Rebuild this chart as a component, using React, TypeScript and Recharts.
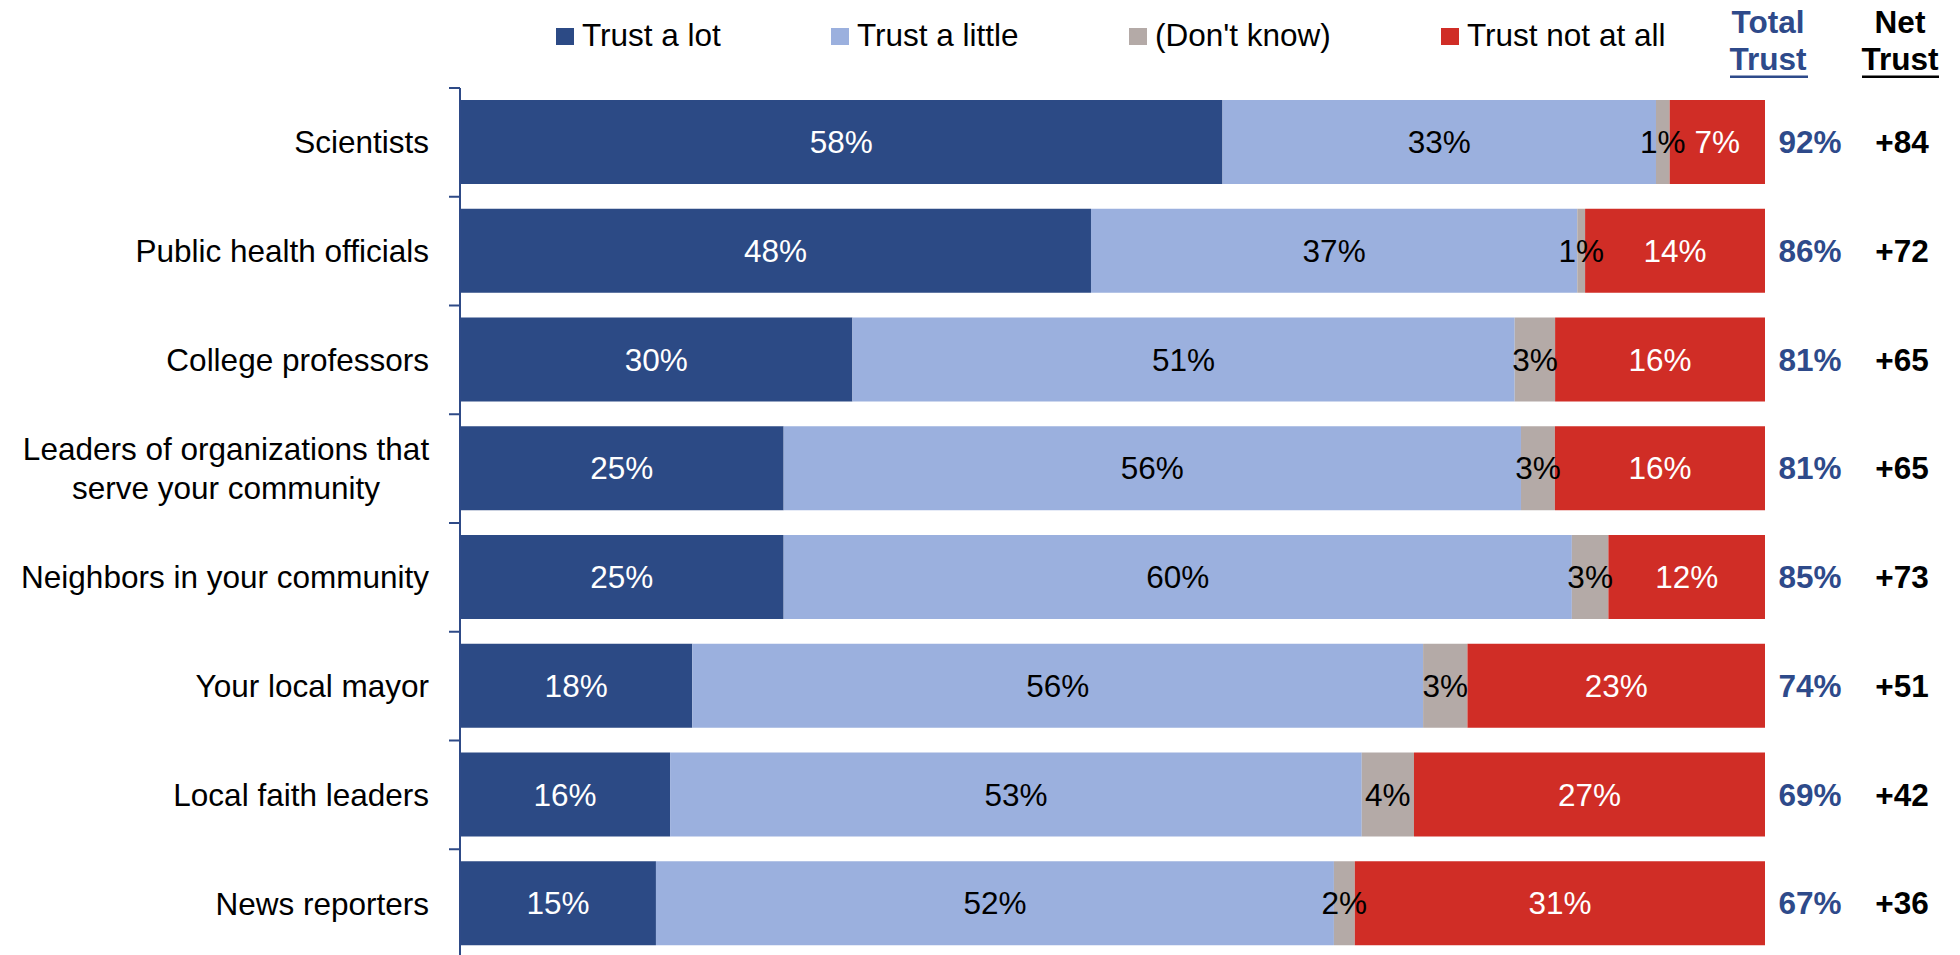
import React from 'react';
import { BarChart, Bar, XAxis, YAxis, LabelList, Legend } from 'recharts';

const categories = [
  'Scientists',
  'Public health officials',
  'College professors',
  'Leaders of organizations that\nserve your community',
  'Neighbors in your community',
  'Your local mayor',
  'Local faith leaders',
  'News reporters',
];
// Bar lengths (unrounded shares)
const trustALot = [58.4, 48.4, 30.1, 24.8, 24.8, 17.8, 16.1, 15.0];
const trustALittle = [33.2, 37.3, 50.8, 56.5, 60.4, 56.0, 53.0, 51.9];
const dontKnow = [1.05, 0.6, 3.1, 2.6, 2.8, 3.4, 4.0, 1.6];
const trustNotAtAll = [7.3, 13.8, 16.1, 16.1, 12.0, 22.8, 26.9, 31.4];
// Printed (rounded) labels
const trustALotLabels = ['58%', '48%', '30%', '25%', '25%', '18%', '16%', '15%'];
const trustALittleLabels = ['33%', '37%', '51%', '56%', '60%', '56%', '53%', '52%'];
const dontKnowLabels = ['1%', '1%', '3%', '3%', '3%', '3%', '4%', '2%'];
const trustNotAtAllLabels = ['7%', '14%', '16%', '16%', '12%', '23%', '27%', '31%'];
const totalTrust = ['92%', '86%', '81%', '81%', '85%', '74%', '69%', '67%'];
const netTrust = ['+84', '+72', '+65', '+65', '+73', '+51', '+42', '+36'];

const seriesNames = ['Trust a lot', 'Trust a little', "(Don't know)", 'Trust not at all'];
const seriesKeys = ['lot', 'little', 'dk', 'notAtAll'];
const seriesColors = ['#2C4A85', '#9BB0DE', '#B4AAA7', '#D02D26'];
const labelColors = ['#FFFFFF', '#000000', '#000000', '#FFFFFF'];
const seriesLabels = [trustALotLabels, trustALittleLabels, dontKnowLabels, trustNotAtAllLabels];

const data = categories.map((name, i) => ({
  name,
  lot: trustALot[i],
  little: trustALittle[i],
  dk: dontKnow[i],
  notAtAll: trustNotAtAll[i],
}));

const FONT = '"Liberation Sans", Arial, Helvetica, sans-serif';
const FS = 31.5;
const AXIS_BLUE = '#2E4A87';
const TOTAL_BLUE = '#2E4A8A';

const CHART_W = 1960;
const CHART_H = 970;
const MARGIN = { top: 88, right: 195, bottom: 12, left: 0 };
const BAND = (CHART_H - MARGIN.top - MARGIN.bottom) / categories.length;

const CategoryTick = (props: any) => {
  const { x, y, payload, index } = props;
  const lines = String(payload.value).split('\n');
  const multi = lines.length > 1;
  const lh = 39;
  const startY = y - ((lines.length - 1) * lh) / 2;
  return (
    <g>
      <line x1={x - 11} x2={x} y1={y - BAND / 2} y2={y - BAND / 2} stroke={AXIS_BLUE} strokeWidth={2} />
      {index === categories.length - 1 && (
        <line x1={x - 11} x2={x} y1={y + BAND / 2} y2={y + BAND / 2} stroke={AXIS_BLUE} strokeWidth={2} />
      )}
      {lines.map((ln, k) => (
        <text
          key={k}
          x={multi ? 226 : x - 31}
          y={startY + k * lh}
          textAnchor={multi ? 'middle' : 'end'}
          dominantBaseline="central"
          fontSize={FS}
          fontFamily={FONT}
          fill="#000"
        >
          {ln}
        </text>
      ))}
    </g>
  );
};

const makeSegLabel = (si: number) => (props: any) => {
  const { x, y, width, height, index } = props;
  const cx = Number(x) + Number(width) / 2;
  const cy = Number(y) + Number(height) / 2;
  const right = Number(x) + Number(width);
  return (
    <g>
      <text
        x={cx}
        y={cy}
        textAnchor="middle"
        dominantBaseline="central"
        fontSize={FS}
        fontFamily={FONT}
        fill={labelColors[si]}
      >
        {seriesLabels[si][index]}
      </text>
      {si === 3 && (
        <>
          <text x={right + 45} y={cy} textAnchor="middle" dominantBaseline="central" fontSize={FS} fontWeight="bold" fontFamily={FONT} fill={TOTAL_BLUE}>
            {totalTrust[index]}
          </text>
          <text x={right + 137} y={cy} textAnchor="middle" dominantBaseline="central" fontSize={FS} fontWeight="bold" fontFamily={FONT} fill="#000">
            {netTrust[index]}
          </text>
        </>
      )}
    </g>
  );
};

const swatchX = [556, 831, 1129, 1441];

const LegendContent = () => (
  <svg width={CHART_W} height={88} style={{ display: 'block' }}>
    {seriesNames.map((n, i) => (
      <g key={n}>
        <rect x={swatchX[i]} y={28} width={18} height={17} fill={seriesColors[i]} />
        <text x={swatchX[i] + 26} y={46} fontSize={FS} fontFamily={FONT} fill="#000">
          {n}
        </text>
      </g>
    ))}
    <text x={1768} y={33} textAnchor="middle" fontSize={FS} fontWeight="bold" fontFamily={FONT} fill={TOTAL_BLUE}>Total</text>
    <text x={1768} y={70} textAnchor="middle" fontSize={FS} fontWeight="bold" fontFamily={FONT} fill={TOTAL_BLUE}>Trust</text>
    <rect x={1730} y={75.5} width={78} height={2.5} fill={TOTAL_BLUE} />
    <text x={1900} y={33} textAnchor="middle" fontSize={FS} fontWeight="bold" fontFamily={FONT} fill="#000">Net</text>
    <text x={1900} y={70} textAnchor="middle" fontSize={FS} fontWeight="bold" fontFamily={FONT} fill="#000">Trust</text>
    <rect x={1862} y={75.5} width={77} height={2.5} fill="#000" />
  </svg>
);

export default function App() {
  return (
    <div style={{ position: 'absolute', left: 0, top: 0, width: CHART_W, height: 955, overflow: 'hidden', background: '#fff', fontFamily: FONT }}>
      <BarChart
        width={CHART_W}
        height={CHART_H}
        data={data}
        layout="vertical"
        stackOffset="expand"
        margin={MARGIN}
        barSize={84}
      >
        <XAxis type="number" hide domain={[0, 1]} />
        <YAxis
          type="category"
          dataKey="name"
          width={460}
          tickLine={false}
          tickSize={0}
          tickMargin={0}
          axisLine={{ stroke: AXIS_BLUE, strokeWidth: 2 }}
          tick={<CategoryTick />}
          interval={0}
        />
        <Legend
          layout="vertical"
          align="center"
          verticalAlign="middle"
          content={<LegendContent />}
          wrapperStyle={{ top: 0, left: 0, width: CHART_W, height: 88 }}
        />
        {seriesKeys.map((k, si) => (
          <Bar key={k} dataKey={k} name={seriesNames[si]} stackId="a" fill={seriesColors[si]} isAnimationActive={false}>
            <LabelList dataKey={k} content={makeSegLabel(si)} />
          </Bar>
        ))}
      </BarChart>
    </div>
  );
}
